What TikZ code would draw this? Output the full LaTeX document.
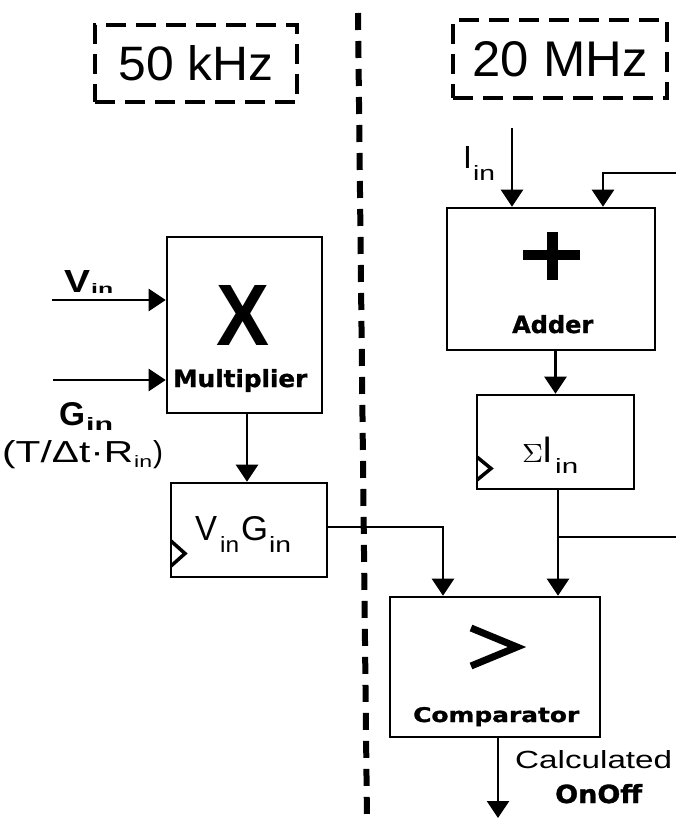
\documentclass[tikz,border=0pt]{standalone}
\usepackage{fontspec}
\setmainfont{Liberation Sans}
\newfontfamily\heavyfont{DejaVu Sans}[BoldFeatures={FakeBold=1.2}]
\usepackage{graphicx}
\usetikzlibrary{arrows.meta}
\newcommand\myfit[3]{\resizebox{#1pt}{#2pt}{#3}}
\begin{document}
\begin{tikzpicture}[x=1pt,y=-1pt,
  blk/.style={draw, line width=2.6pt, inner sep=0pt},
  dbox/.style={draw, line width=4pt, dash pattern=on 20pt off 10pt, inner sep=0pt},
  txt/.style={inner sep=0pt, anchor=base west},
  conn/.style={line width=2.6pt},
  arr/.style={conn, -{Triangle[width=22pt,length=17pt]}},
  clk/.style={line width=3.5pt, line join=miter},
  divl/.style={line width=6pt, dash pattern=on 17pt off 11pt},
]
\useasboundingbox[fill=white] (0,0) rectangle (676,821);

% divider
\coordinate (dtop) at (358,13);
\coordinate (dbot) at (367,821);
\draw[divl] (dtop) -- (dbot);

% clock-domain labels
\node[dbox, minimum width=202pt, minimum height=77pt] (f1) at (196,63.5) {\myfit{155}{35}{50 kHz}};
\node[dbox, minimum width=214pt, minimum height=78pt] (f2) at (560,59) {\myfit{175}{35}{20 MHz}};

% blocks
\node[blk, minimum width=155pt, minimum height=176pt] (mult) at (244.5,325) {};
\node[blk, minimum width=156pt, minimum height=94pt] (vg) at (249,530) {};
\node[blk, minimum width=208pt, minimum height=142pt] (adder) at (551,279) {};
\node[blk, minimum width=157pt, minimum height=94pt] (sig) at (555.5,442) {};
\node[blk, minimum width=210pt, minimum height=140pt] (comp) at (495,667) {};

% block contents
\node[txt] (xsym) at (216,345) {\myfit{53}{60}{\bfseries X}};
\node[txt] (multl) at (173,387) {\myfit{134}{18}{\heavyfont\bfseries Multiplier}};
\node[txt] (vgV) at (195,540) {\myfit{22}{24}{V}};
\node[txt] (vgVs) at (220,552) {\myfit{19}{16}{in}};
\node[txt] (vgG) at (241,540) {\myfit{27}{24}{G}};
\node[txt] (vgGs) at (269,552) {\myfit{22}{16}{in}};
\fill (523,250) rectangle (580,260);
\fill (547,232) rectangle (558,280);
\node[txt] (addl) at (512,333) {\myfit{81}{18}{\heavyfont\bfseries Adder}};
\node[txt] (sigs) at (522,462) {\myfit{21}{18}{$\Sigma$}};
\node[txt] (sigI) at (542,462) {\fontsize{37}{37}\selectfont I};
\node[txt] (sigIs) at (555,473) {\myfit{23}{15}{in}};
\draw[line width=7pt, line join=miter] (471,628) -- (517,647) -- (471,666);
\node[txt] (compl) at (413,722) {\myfit{166}{15}{\heavyfont\bfseries Comparator}};

% clock markers
\draw[clk] (171,541) -- (185,553.5) -- (171,566);
\draw[clk] (477,457) -- (491,468.5) -- (477,480);

% input labels
\node[txt] (vinV) at (64,292) {\myfit{26}{22}{\bfseries V}};
\node[txt] (vinS) at (91,293) {\myfit{22}{10}{\bfseries in}};
\node[txt] (ginG) at (59,425) {\myfit{26}{23}{\bfseries G}};
\node[txt] (ginS) at (86,430) {\myfit{27}{13}{\bfseries in}};
\node[txt] (ginf) at (2,462) {\myfit{131}{22}{(T/Δt·R}};
\node[txt] (ginfs) at (134,467) {\myfit{18}{12}{in}};
\node[txt] (ginfp) at (153,462) {\myfit{10}{22}{)}};
\node[txt] (iinI) at (463,168) {\fontsize{32}{32}\selectfont I};
\node[txt] (iinS) at (473,180) {\myfit{22}{15}{in}};
\node[txt] (calc) at (515,768) {\myfit{157}{18}{Calculated}};
\node[txt] (onoff) at (555,803) {\myfit{87}{19}{\heavyfont\bfseries OnOff}};

% connectors
\coordinate (vin) at (52,300);
\coordinate (gin) at (53,380);
\draw[arr] (vin) -- (vin -| mult.west);
\draw[arr] (gin) -- (gin -| mult.west);
\draw[arr] ([xshift=2.5pt]mult.south) -- ([xshift=2.5pt]mult.south |- vg.north);
\coordinate (vgc) at (443,527);
\draw[arr] (vg.east |- vgc) -- (vgc) -- (vgc |- comp.north);
\coordinate (iin) at (512,128);
\draw[arr] (iin) -- (iin |- adder.north);
\coordinate (fbR) at (676,173);
\coordinate (fbC) at (603,173);
\draw[arr] (fbR) -- (fbC) -- (fbC |- adder.north);
\draw[arr] (sig.north |- adder.south) -- (sig.north);
\coordinate (sj) at (558,537);
\coordinate (sjR) at (676,537);
\draw[arr] (sig.south -| sj) -- (sj |- comp.north);
\draw[conn] (sj) -- (sjR);
\coordinate (out) at (498,818);
\draw[arr] (comp.south -| out) -- (out);
\end{tikzpicture}
\end{document}
